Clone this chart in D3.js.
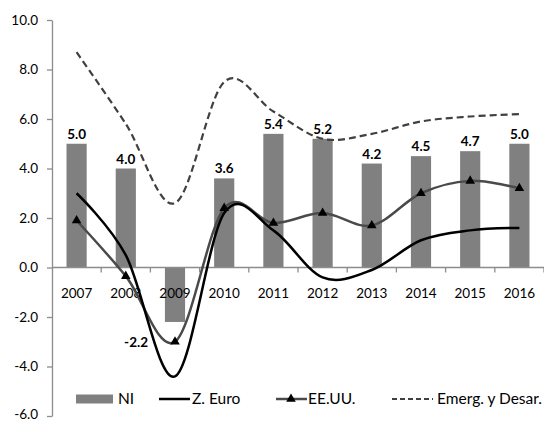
<!DOCTYPE html>
<html>
<head>
<meta charset="utf-8">
<script src="https://cdn.jsdelivr.net/npm/d3@7"></script>
<style>
html, body { margin: 0; padding: 0; background: #fff; }
svg { display: block; }
text { font-family: Lato, "Open Sans", sans-serif; }
</style>
</head>
<body>
<svg id="chart" width="544" height="422"></svg>
<script>
const years = ["2007","2008","2009","2010","2011","2012","2013","2014","2015","2016"];
const niValues = [5.0, 4.0, -2.2, 3.6, 5.4, 5.2, 4.2, 4.5, 4.7, 5.0];
const euroValues = [3.0, 0.5, -4.4, 2.2, 1.5, -0.4, -0.1, 1.1, 1.5, 1.6];
const usaValues = [1.9, -0.35, -3.0, 2.4, 1.8, 2.2, 1.7, 3.0, 3.5, 3.2];
const emergValues = [8.7, 5.8, 2.6, 7.5, 6.3, 5.2, 5.4, 5.9, 6.1, 6.2];
const yTicks = [-6, -4, -2, 0, 2, 4, 6, 8, 10];
const seriesNames = ["NI", "Z. Euro", "EE.UU.", "Emerg. y Desar."];

const svg = d3.select("#chart");
const x = d3.scaleBand().domain(years).range([52, 544]).paddingInner(0.59).paddingOuter(0.295);
const y = d3.scaleLinear().domain([-6, 10]).range([416, 20]);
const cx = d => x(d) + x.bandwidth() / 2;
const axisColor = "#8c8c8c";
const fmt = v => d3.format(".1f")(v).replace("\u2212", "-");

// Y axis
const yAxis = svg.append("g").attr("transform", "translate(52,0)")
  .call(d3.axisLeft(y).tickValues(yTicks).tickFormat(fmt).tickSizeInner(5).tickSizeOuter(0).tickPadding(9));
yAxis.select(".domain").attr("stroke", axisColor).attr("stroke-width", 1.3);
yAxis.selectAll(".tick line").attr("stroke", axisColor).attr("stroke-width", 1.3);
yAxis.selectAll(".tick text").attr("fill", "#000").style("font-size", "13.5px").style("font-family", "Lato, sans-serif")
  .attr("dy", d => d === yTicks[0] ? "0.15em" : "0.32em");

// Bars
svg.append("g").selectAll("rect").data(years).join("rect")
  .attr("x", d => x(d))
  .attr("width", x.bandwidth())
  .attr("y", (d, i) => y(Math.max(0, niValues[i])))
  .attr("height", (d, i) => Math.abs(y(niValues[i]) - y(0)))
  .attr("fill", "#808080");

// X axis line at zero with boundary ticks
const step = x.step();
const xStart = x.range()[0];
const boundaries = d3.range(1, years.length + 1).map(k => xStart + k * step);
svg.append("line").attr("x1", xStart).attr("x2", x.range()[1]).attr("y1", y(0)).attr("y2", y(0))
  .attr("stroke", axisColor).attr("stroke-width", 1.3);
svg.append("g").selectAll("line").data(boundaries).join("line")
  .attr("x1", d => d).attr("x2", d => d).attr("y1", y(0)).attr("y2", y(0) + 5)
  .attr("stroke", axisColor).attr("stroke-width", 1.3);
svg.append("g").selectAll("text").data(years).join("text")
  .attr("x", d => cx(d)).attr("y", y(0) + 30)
  .attr("text-anchor", "middle").style("font-size", "13.5px").attr("fill", "#000")
  .text(d => d);

// Lines
const curve = d3.curveCardinal.tension(0);
const lineGen = vals => d3.line().x((d, i) => cx(years[i])).y(d => y(d)).curve(curve)(vals);

svg.append("path").attr("d", lineGen(emergValues)).attr("fill", "none")
  .attr("stroke", "#404040").attr("stroke-width", 2.2).attr("stroke-dasharray", "7,4");
svg.append("path").attr("d", lineGen(usaValues)).attr("fill", "none")
  .attr("stroke", "#4a4a4a").attr("stroke-width", 2.5);
svg.append("path").attr("d", lineGen(euroValues)).attr("fill", "none")
  .attr("stroke", "#000").attr("stroke-width", 2.5);

const tri = d3.symbol().type(d3.symbolTriangle).size(40);
svg.append("g").selectAll("path").data(usaValues).join("path")
  .attr("d", tri)
  .attr("transform", (d, i) => `translate(${cx(years[i])},${y(d)})`)
  .attr("fill", "#000");

// Bar labels
svg.append("g").selectAll("text").data(years).join("text")
  .attr("x", (d, i) => niValues[i] >= 0 ? cx(d) : cx(d) - 27)
  .attr("y", (d, i) => niValues[i] >= 0 ? y(niValues[i]) - 5 : y(niValues[i]) + 25)
  .attr("text-anchor", (d, i) => niValues[i] >= 0 ? "middle" : "end")
  .style("font-size", "13.5px").style("font-weight", "bold").attr("fill", "#000")
  .text((d, i) => fmt(niValues[i]));

// Legend
const ly = 399;
const lfs = "15.5px";
const leg = svg.append("g");
leg.append("rect").attr("x", 76).attr("y", ly - 4.5).attr("width", 37).attr("height", 9).attr("fill", "#808080");
leg.append("text").attr("x", 118).attr("y", ly).attr("dy", "0.35em").style("font-size", lfs).text(seriesNames[0]);
leg.append("line").attr("x1", 159).attr("x2", 190).attr("y1", ly).attr("y2", ly).attr("stroke", "#000").attr("stroke-width", 2.5);
leg.append("text").attr("x", 192).attr("y", ly).attr("dy", "0.35em").style("font-size", lfs).text(seriesNames[1]);
leg.append("line").attr("x1", 276).attr("x2", 307).attr("y1", ly).attr("y2", ly).attr("stroke", "#4a4a4a").attr("stroke-width", 2.5);
leg.append("path").attr("d", tri).attr("transform", `translate(291,${ly})`).attr("fill", "#000");
leg.append("text").attr("x", 308).attr("y", ly).attr("dy", "0.35em").style("font-size", lfs).text(seriesNames[2]);
leg.append("line").attr("x1", 392).attr("x2", 433).attr("y1", ly).attr("y2", ly).attr("stroke", "#404040").attr("stroke-width", 2).attr("stroke-dasharray", "5,3");
leg.append("text").attr("x", 437).attr("y", ly).attr("dy", "0.35em").style("font-size", lfs).text(seriesNames[3]);
</script>
</body>
</html>
